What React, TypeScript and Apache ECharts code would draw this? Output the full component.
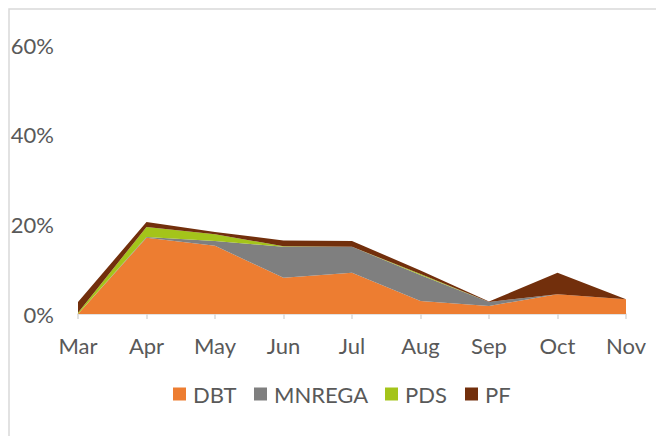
import React, { useEffect, useRef } from "react";
import * as echarts from "echarts";

const months = ["Mar", "Apr", "May", "Jun", "Jul", "Aug", "Sep", "Oct", "Nov"];
const dbt = [0, 17.0, 15.2, 8.1, 9.2, 2.9, 1.8, 4.4, 3.3];
const mnrega = [0, 0.2, 1.1, 6.9, 5.8, 5.8, 0.9, 0, 0];
const pds = [0.3, 2.2, 1.5, 0.1, 0, 0.2, 0, 0, 0];
const pf = [2.4, 1.1, 0.5, 1.3, 1.3, 0.8, 0.1, 4.8, 0];

const seriesNames = ["DBT", "MNREGA", "PDS", "PF"];
const seriesColors = ["#ED7D31", "#7F7F7F", "#A4C41A", "#722F0C"];
const legendLefts = [173, 254, 385, 465];

const FONT = "Lato";

export default function App() {
  const ref = useRef<HTMLDivElement>(null);
  useEffect(() => {
    if (!ref.current) return;
    const chart = echarts.init(ref.current, undefined, { renderer: "svg" });
    const data = [dbt, mnrega, pds, pf];
    chart.setOption({
      animation: false,
      backgroundColor: "#ffffff",
      textStyle: { fontFamily: FONT },
      graphic: [
        {
          type: "rect",
          shape: { x: 9, y: 9, width: 900, height: 900 },
          style: { fill: "none", stroke: "#D9D9D9", lineWidth: 1.5 },
          silent: true,
        },
      ],
      legend: seriesNames.map((n, i) => ({
        data: [n],
        left: legendLefts[i],
        top: 383,
        padding: 0,
        itemWidth: 13,
        itemHeight: 13,
        itemGap: 0,
        icon: "rect",
        textStyle: { fontFamily: FONT, fontSize: 22, color: "#595959", padding: [0, 0, 0, 2] },
      })),
      grid: { left: 78, right: 30, top: 45, bottom: 122, containLabel: false },
      xAxis: {
        type: "category",
        data: months,
        boundaryGap: false,
        axisLine: { lineStyle: { color: "#D9D9D9", width: 1.5 } },
        axisTick: { show: true, length: 5, lineStyle: { color: "#D9D9D9", width: 1.5 } },
        axisLabel: { fontFamily: FONT, fontSize: 22, color: "#595959", margin: 20 },
        splitLine: { show: false },
      },
      yAxis: {
        type: "value",
        min: 0,
        max: 60,
        interval: 20,
        axisLine: { show: false },
        axisTick: { show: false },
        splitLine: { show: false },
        axisLabel: { fontFamily: FONT, fontSize: 22, color: "#595959", margin: 24, formatter: "{value}%" },
      },
      series: seriesNames.map((n, i) => ({
        name: n,
        type: "line",
        stack: "total",
        data: data[i],
        showSymbol: false,
        symbol: "none",
        lineStyle: { width: 0, color: seriesColors[i] },
        itemStyle: { color: seriesColors[i] },
        areaStyle: { color: seriesColors[i], opacity: 1 },
      })),
    });
    return () => chart.dispose();
  }, []);
  return (
    <div
      ref={ref}
      style={{ position: "absolute", left: 0, top: 0, width: 656, height: 436 }}
    />
  );
}
